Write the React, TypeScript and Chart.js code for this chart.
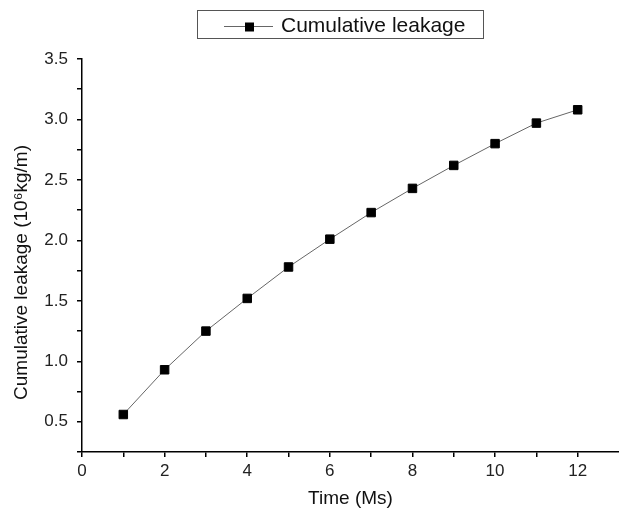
import React, { useEffect, useRef } from "react";
import { Chart, registerables } from "chart.js";

Chart.register(...registerables);

const timeMs = [1, 2, 3, 4, 5, 6, 7, 8, 9, 10, 11, 12];
const cumulativeLeakage = [0.56, 0.93, 1.25, 1.52, 1.78, 2.01, 2.23, 2.43, 2.62, 2.8, 2.97, 3.08];
const seriesLabel = "Cumulative leakage";
const xTitle = "Time (Ms)";
const yTitle = "Cumulative leakage (10\u2076kg/m)";

const FONT = "'Liberation Sans', Arial, sans-serif";

const legendPlugin = {
  id: "originLegend",
  afterDraw(chart: any) {
    const ctx = chart.ctx;
    ctx.save();
    ctx.strokeStyle = "#555";
    ctx.lineWidth = 1;
    ctx.strokeRect(197.5, 10.5, 286, 28);
    ctx.strokeStyle = "#666";
    ctx.beginPath();
    ctx.moveTo(224, 26.5);
    ctx.lineTo(273, 26.5);
    ctx.stroke();
    ctx.fillStyle = "#000";
    ctx.fillRect(245, 22.5, 9, 9);
    ctx.fillStyle = "#111";
    ctx.font = `21px ${FONT}`;
    ctx.textBaseline = "middle";
    ctx.textAlign = "left";
    ctx.fillText(seriesLabel, 281, 26);
    const area = chart.chartArea;
    ctx.translate(22, (area.top + area.bottom) / 2 + 17);
    ctx.rotate(-Math.PI / 2);
    ctx.textAlign = "center";
    ctx.font = `19px ${FONT}`;
    ctx.fillText(yTitle, 0, 0);
    ctx.restore();
  },
};

export default function App() {
  const ref = useRef<HTMLCanvasElement | null>(null);
  useEffect(() => {
    if (!ref.current) return;
    const chart = new Chart(ref.current, {
      type: "line",
      data: {
        datasets: [
          {
            label: seriesLabel,
            data: timeMs.map((t, i) => ({ x: t, y: cumulativeLeakage[i] })),
            borderColor: "#666",
            borderWidth: 1,
            pointStyle: "rect",
            pointRadius: 6,
            pointBackgroundColor: "#000",
            pointBorderColor: "#000",
            pointBorderWidth: 1,
            tension: 0,
          },
        ],
      },
      options: {
        animation: false,
        responsive: false,
        layout: { autoPadding: false, padding: { top: 59, right: 0, bottom: 0, left: 0 } },
        plugins: { legend: { display: false }, tooltip: { enabled: false } },
        scales: {
          x: {
            type: "linear",
            min: 0,
            max: 13,
            afterFit(scale: any) {
              scale.height = 59;
              scale.paddingRight = 0;
            },
            ticks: {
              stepSize: 1,
              autoSkip: false,
              maxRotation: 0,
              padding: 4,
              color: "#222",
              font: { size: 17, family: FONT },
              callback: (v: any) => (Number(v) % 2 === 0 && Number(v) <= 12 ? String(v) : ""),
            },
            grid: {
              drawOnChartArea: false,
              drawTicks: true,
              tickLength: 5,
              color: (c: any) => (c.tick && c.tick.value > 12 ? "rgba(0,0,0,0)" : "#000"),
              lineWidth: 1.5,
            },
            border: { display: true, color: "#000", width: 1.5 },
            title: {
              display: true,
              text: xTitle,
              color: "#111",
              font: { size: 19, family: FONT },
              padding: { top: 0, bottom: 1 },
            },
          },
          y: {
            type: "linear",
            min: 0.25,
            max: 3.5,
            afterFit(scale: any) {
              scale.width = 82;
            },
            ticks: {
              stepSize: 0.25,
              autoSkip: false,
              padding: 9,
              color: "#222",
              font: { size: 17, family: FONT },
              callback: (v: any) => {
                const n = Number(v);
                return Math.abs(n * 2 - Math.round(n * 2)) < 1e-6 ? n.toFixed(1) : "";
              },
            },
            grid: { drawOnChartArea: false, drawTicks: true, tickLength: 5, color: "#000", lineWidth: 1.5 },
            border: { display: true, color: "#000", width: 1.5 },
            title: { display: false },
          },
        },
      },
      plugins: [legendPlugin],
    });
    return () => chart.destroy();
  }, []);
  return (
    <div style={{ position: "fixed", left: 0, top: 0, width: 619, height: 511, background: "#fff" }}>
      <canvas ref={ref} width={619} height={511} />
    </div>
  );
}
